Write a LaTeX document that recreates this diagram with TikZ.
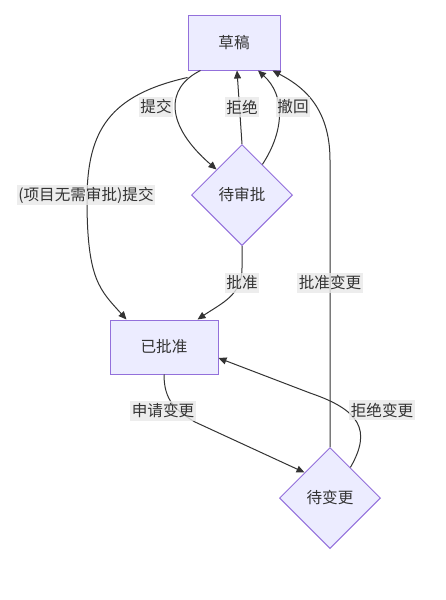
\documentclass[tikz,border=0pt]{standalone}
\usepackage{fontspec}
\setmainfont{Noto Sans CJK SC}
\usetikzlibrary{shapes.geometric,arrows.meta,calc}
\definecolor{nodefill}{HTML}{ECECFF}
\definecolor{nodeline}{HTML}{9370DB}
\definecolor{edgecol}{HTML}{333333}
\definecolor{lblbg}{HTML}{E8E8E8}
\begin{document}
\begin{tikzpicture}[x=1pt,y=-1pt,
  every node/.style={font=\fontsize{15.6}{18}\selectfont, text=edgecol},
  statebox/.style={draw=nodeline, fill=nodefill, line width=1pt, minimum width=92pt, minimum height=55pt, inner sep=0pt},
  choicebox/.style={diamond, aspect=1, draw=nodeline, fill=nodefill, line width=1pt, minimum size=101pt, inner sep=0pt},
  edgelbl/.style={fill=lblbg, fill opacity=0.8, text opacity=1, inner sep=1.5pt, minimum height=20pt},
  flow/.style={draw=edgecol, line width=1pt, -{Triangle[length=8pt,width=7pt]}}
]
\useasboundingbox (0,0) rectangle (446,600);
\node[statebox] (cg) at (234,42.5) {草稿};
\node[choicebox] (dsp) at (242,195) {待审批};
\node[statebox, minimum width=108pt, minimum height=54pt] (ypz) at (164,347) {已批准};
\node[choicebox] (dbg) at (330,498) {待变更};

% edges
\draw[flow] ([xshift=13pt]cg.south west) .. controls (165,88) and (165,125) .. ($(dsp.west)!0.5!(dsp.north)$);
\draw[flow] ([yshift=-7pt]cg.south west) .. controls (110,95) and (87,130) .. (87,200) .. controls (87,280) and (100,290) .. ([xshift=17pt]ypz.north west);
\draw[flow] (dsp.north) -- ([xshift=3pt]cg.south);
\draw[flow] ($(dsp.north)!0.4!(dsp.east)$) .. controls (285,130) and (285,95) .. ([xshift=24pt]cg.south);
\draw[flow] (dsp.south) -- (242,268) .. controls (242,295) and (222,303) .. ([xshift=-21pt]ypz.north east);
\draw[flow] (ypz.south) .. controls (164,400) and (175,410) .. (195,422) -- ($(dbg.west)!0.5!(dbg.north)$);
\draw[flow] (dbg.north) -- (330,160) .. controls (330,105) and (300,85) .. ([xshift=-8pt]cg.south east);
\draw[flow] ($(dbg.north)!0.4!(dbg.east)$) .. controls (372,430) and (360,410) .. (310,393) -- ([yshift=-11pt]ypz.east);

% labels
\node[edgelbl] (l1) at (156,107) {提交};
\node[edgelbl] (l2) at (86,195) {(项目无需审批)提交};
\node[edgelbl] (l3) at (242,107) {拒绝};
\node[edgelbl] (l4) at (293,107) {撤回};
\node[edgelbl] (l5) at (242,283) {批准};
\node[edgelbl] (l6) at (330,283) {批准变更};
\node[edgelbl] (l7) at (163,411) {申请变更};
\node[edgelbl] (l8) at (382,410) {拒绝变更};
\end{tikzpicture}
\end{document}
